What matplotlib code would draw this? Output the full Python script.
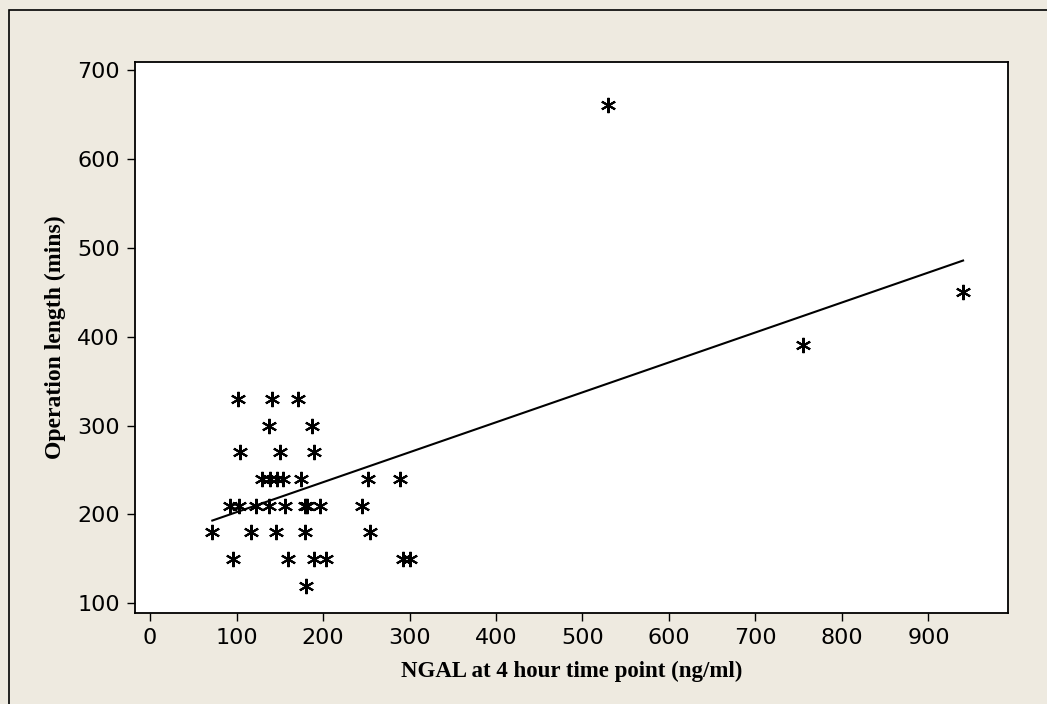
import numpy as np
import matplotlib
matplotlib.use('Agg')
import matplotlib.pyplot as plt
from matplotlib.patches import Rectangle

# NGAL at 4 hours (ng/ml) vs operation length (mins)
ngal = [102, 141, 171,
        137, 187,
        104, 150, 189,
        130, 139, 147, 154, 175, 252, 289,
        92, 103, 123, 137, 156, 179, 182, 197, 245,
        72, 117, 146, 179, 254,
        96, 160, 190, 204, 293, 301,
        180,
        530, 755, 940]
op_length = [330, 330, 330,
             300, 300,
             270, 270, 270,
             240, 240, 240, 240, 240, 240, 240,
             210, 210, 210, 210, 210, 210, 210, 210, 210,
             180, 180, 180, 180, 180,
             150, 150, 150, 150, 150, 150,
             120,
             660, 390, 450]

# fitted line as drawn on the chart
fit_intercept = 168.8
fit_slope = 0.337

x_ticks = [0, 100, 200, 300, 400, 500, 600, 700, 800, 900]
y_ticks = [100, 200, 300, 400, 500, 600, 700]

bg = '#EEEAE0'
tick_font = 'DejaVu Sans'
label_font = 'Liberation Serif'

fig = plt.figure(figsize=(10.47, 7.04), dpi=100, facecolor=bg)
ax = fig.add_axes([0.129, 0.1293, 0.8338, 0.7831])
ax.set_facecolor('white')

# outer frame (left / top edges visible)
fig.patches.append(Rectangle((9 / 1047, -0.1), 1.2, 1 - 10 / 704 + 0.1,
                             transform=fig.transFigure, fill=False,
                             edgecolor='black', linewidth=1.2))

ax.plot(ngal, op_length, linestyle='none', marker=(6, 2, 0),
        markersize=11, markeredgewidth=1.5, color='black')

fx = np.array([min(ngal), max(ngal)])
ax.plot(fx, fit_intercept + fit_slope * fx, color='black', linewidth=1.5)

ax.set_xlim(-17.3, 992)
ax.set_ylim(89.1, 709.3)
ax.set_xticks(x_ticks)
ax.set_yticks(y_ticks)
ax.tick_params(direction='out', length=6, width=1, pad=5, labelsize=16)
for lab in ax.get_xticklabels() + ax.get_yticklabels():
    lab.set_fontfamily(tick_font)

for s in ax.spines.values():
    s.set_linewidth(1.3)

ax.set_xlabel('NGAL at 4 hour time point (ng/ml)', fontfamily=label_font,
              fontweight='bold', fontsize=16.5, labelpad=9)
ax.set_ylabel('Operation length (mins)', fontfamily=label_font,
              fontweight='bold', fontsize=17, labelpad=8)

fig.savefig('out.png', dpi=100, facecolor=bg)
